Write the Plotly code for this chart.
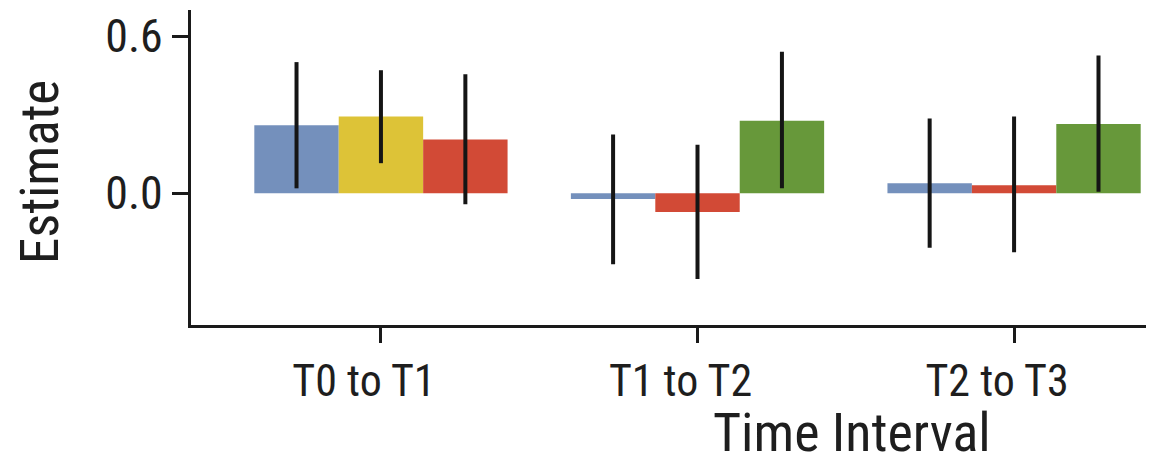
import plotly.graph_objects as go

categories = ["T0 to T1", "T1 to T2", "T2 to T3"]

blue_est = [0.260, -0.022, 0.038]
blue_lo = [0.019, -0.271, -0.208]
blue_hi = [0.501, 0.225, 0.286]

yellow_est = [0.293, None, None]
yellow_lo = [0.115, None, None]
yellow_hi = [0.470, None, None]

red_est = [0.205, -0.071, 0.031]
red_lo = [-0.042, -0.327, -0.225]
red_hi = [0.455, 0.185, 0.293]

green_est = [None, 0.277, 0.265]
green_lo = [None, 0.019, 0.006]
green_hi = [None, 0.541, 0.526]

series = [
    ("blue", blue_est, blue_lo, blue_hi, "#7490bc"),
    ("yellow", yellow_est, yellow_lo, yellow_hi, "#ddc337"),
    ("red", red_est, red_lo, red_hi, "#d24a36"),
    ("green", green_est, green_lo, green_hi, "#67983a"),
]

FONT = "Liberation Sans Narrow, Roboto Condensed, Roboto, sans-serif"
TXT = "#1e1e1e"
AX = "#1a1a1a"

n_slots = 3
group_w = 0.8
slot_w = group_w / n_slots

# slot index of each present series within a category
slots = {}
for ci in range(len(categories)):
    k = 0
    for name, est, lo, hi, col in series:
        if est[ci] is not None:
            slots[(name, ci)] = k
            k += 1

fig = go.Figure()
for name, est, lo, hi, col in series:
    xs, ys, ep, em = [], [], [], []
    for ci in range(len(categories)):
        if est[ci] is None:
            continue
        s = slots[(name, ci)]
        xs.append(ci - group_w / 2 + slot_w * (s + 0.5))
        ys.append(est[ci])
        ep.append(hi[ci] - est[ci])
        em.append(est[ci] - lo[ci])
    fig.add_trace(go.Bar(
        x=xs, y=ys, width=slot_w, name=name,
        marker=dict(color=col, line=dict(width=0)),
        error_y=dict(type="data", symmetric=False, array=ep, arrayminus=em,
                     color="#151515", thickness=4, width=0),
        showlegend=False,
    ))

# page body adds an 8px offset; figure is sized/positioned to compensate
W, H = 1146, 455
L, T, B = 183, 2, 138
PW, PH = W - L, H - T - B

fig.update_layout(
    width=W, height=H,
    margin=dict(l=L, r=0, t=T, b=B, autoexpand=False),
    paper_bgcolor="white", plot_bgcolor="white",
    barmode="overlay",
    font=dict(family=FONT, color=TXT),
    xaxis=dict(
        range=[-0.600, 2.442],
        tickmode="array", tickvals=list(range(len(categories))), ticktext=categories,
        showline=True, linecolor=AX, linewidth=3,
        ticks="outside", ticklen=15, tickwidth=3, tickcolor=AX,
        tickfont=dict(size=44, family=FONT, color=TXT),
        showgrid=False, zeroline=False, automargin=False,
        ticklabelshift=-17,
    ),
    yaxis=dict(
        range=[-0.503, 0.700],
        tickmode="array", tickvals=[0.0, 0.6], ticktext=["0.0", "0.6"],
        showline=True, linecolor=AX, linewidth=3,
        ticks="outside", ticklen=16, tickwidth=3, tickcolor=AX,
        tickfont=dict(size=46, family=FONT, color=TXT),
        showgrid=False, zeroline=False, automargin=False,
    ),
    annotations=[
        dict(text="Time Interval", xref="paper", yref="paper",
             x=(843.5 - L) / PW, y=(T + PH - 424) / PH,
             xanchor="center", yanchor="middle", showarrow=False,
             font=dict(size=54, family=FONT, color=TXT)),
        dict(text="Estimate", xref="paper", yref="paper",
             x=(32.5 - L) / PW, y=(T + PH - 164.5) / PH,
             xanchor="center", yanchor="middle", showarrow=False, textangle=-90,
             font=dict(size=53, family=FONT, color=TXT)),
    ],
)

fig.write_html("out.html")
